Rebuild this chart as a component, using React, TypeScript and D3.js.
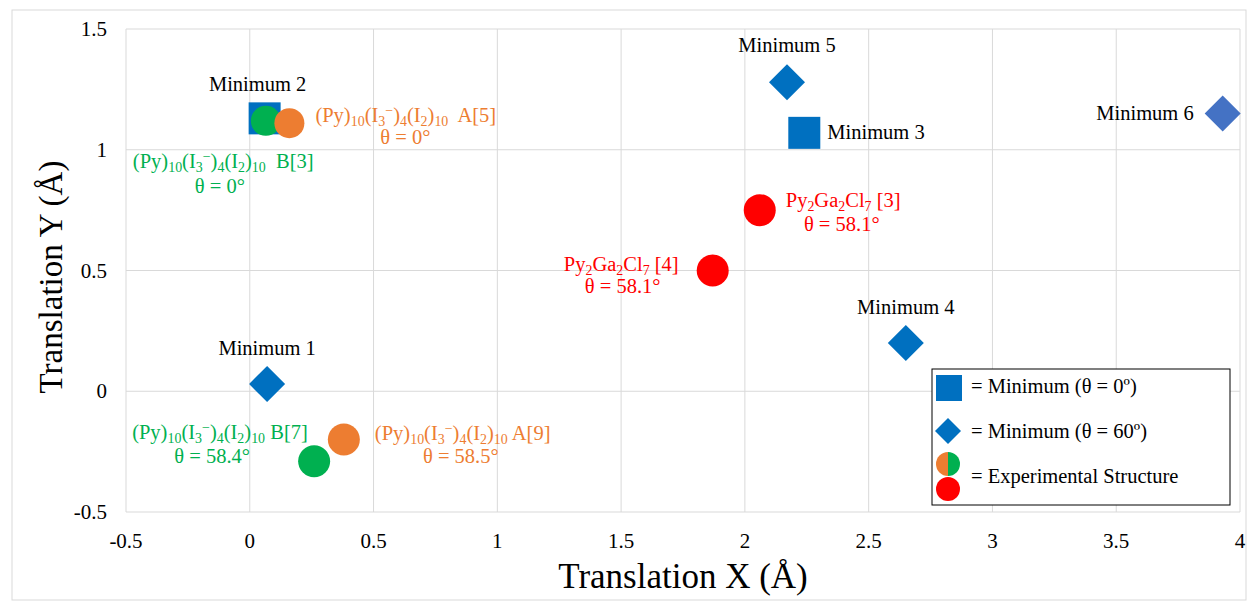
import * as d3 from "d3";

// ---- data ----
const xTicks = [-0.5, 0, 0.5, 1, 1.5, 2, 2.5, 3, 3.5, 4];
const yTicks = [-0.5, 0, 0.5, 1, 1.5];

const minimaNames = ["Minimum 1", "Minimum 2", "Minimum 3", "Minimum 4", "Minimum 5", "Minimum 6"];
const minimaX = [0.07, 0.06, 2.24, 2.65, 2.17, 3.93];
const minimaY = [0.03, 1.13, 1.07, 0.2, 1.28, 1.15];
const minimaShape = ["diamond", "square", "square", "diamond", "diamond", "diamond"];

const expNames = ["B[3]", "A[5]", "B[7]", "A[9]", "Ga[3]", "Ga[4]"];
const expX = [0.065, 0.16, 0.26, 0.38, 2.06, 1.87];
const expY = [1.12, 1.11, -0.29, -0.2, 0.75, 0.5];
const expTheta = ["θ = 0°", "θ = 0°", "θ = 58.4°", "θ = 58.5°", "θ = 58.1°", "θ = 58.1°"];
const expColor = ["#00B050", "#ED7D31", "#00B050", "#ED7D31", "#FF0000", "#FF0000"];

const legendItems = ["= Minimum (θ = 0º)", "= Minimum (θ = 60º)", "= Experimental Structure"];

const W = 1248, H = 607;
const FONT = "'Liberation Serif', 'Times New Roman', serif";
const BLUE = "#0070C0";
const LS = 20.5; // label font size

const x = d3.scaleLinear().domain([-0.5, 4]).range([126, 1240]);
const y = d3.scaleLinear().domain([-0.5, 1.5]).range([512, 29]);

type Seg = [string, number];
const pyFormula = (tail: string): Seg[] => [
  ["(Py)", 0], ["10", -1], ["(I", 0], ["3", -1], ["−", 1], [")", 0], ["4", -1],
  ["(I", 0], ["2", -1], [")", 0], ["10", -1], [tail, 0],
];
const gaFormula = (tail: string): Seg[] => [
  ["Py", 0], ["2", -1], ["Ga", 0], ["2", -1], ["Cl", 0], ["7", -1], [tail, 0],
];

const formulas: Seg[][] = [
  pyFormula("  B[3]"),
  pyFormula("  A[5]"),
  pyFormula(" B[7]"),
  pyFormula(" A[9]"),
  gaFormula(" [3]"),
  gaFormula(" [4]"),
];

// label offsets relative to each point (px): formula start/anchor, theta center
const labelPos = [
  { fx: -133, fy: 47, anchor: "start", tx: -46, ty: 72 },
  { fx: 26, fy: -1, anchor: "start", tx: 116, ty: 21 },
  { fx: -182, fy: -22, anchor: "start", tx: -102, ty: 2 },
  { fx: 31, fy: 0, anchor: "start", tx: 117, ty: 23 },
  { fx: 26, fy: -3, anchor: "start", tx: 82, ty: 21 },
  { fx: -34, fy: 0, anchor: "end", tx: -90, ty: 22 },
];
const minLabelPos = [
  { dx: 0, dy: -29, anchor: "middle" },
  { dx: -7, dy: -27, anchor: "middle" },
  { dx: 23, dy: 6, anchor: "start" },
  { dx: 0, dy: -29, anchor: "middle" },
  { dx: 0, dy: -30, anchor: "middle" },
  { dx: -29, dy: 6, anchor: "end" },
];

function Rich({ segs, px, py, anchor, color, size }: any) {
  let cur = 0;
  return (
    <text x={px} y={py} textAnchor={anchor} fill={color} fontSize={size} fontFamily={FONT} style={{ whiteSpace: "pre" }}>
      {segs.map(([t, lvl]: Seg, i: number) => {
        const target = lvl === -1 ? 4 : lvl === 1 ? -7 : 0;
        const dy = target - cur;
        cur = target;
        return (
          <tspan key={i} dy={dy} fontSize={lvl === 0 ? size : size * 0.68}>
            {t}
          </tspan>
        );
      })}
    </text>
  );
}

function Marker({ shape, cx, cy, color }: any) {
  if (shape === "square") return <rect x={cx - 16} y={cy - 16} width={32} height={32} fill={color} />;
  const r = 18;
  return <path d={`M${cx},${cy - r}L${cx + r},${cy}L${cx},${cy + r}L${cx - r},${cy}Z`} fill={color} />;
}

export default function App() {
  const halfArc = d3.arc<any>().innerRadius(0).outerRadius(12);
  return (
    <svg width={W} height={H} style={{ position: "absolute", left: 0, top: 0, background: "#fff" }}>
      <rect x={12} y={10} width={1234} height={590} fill="#fff" stroke="#D9D9D9" />
      {/* grid */}
      {xTicks.map((t) => (
        <line key={"gx" + t} x1={x(t)} x2={x(t)} y1={y(1.5)} y2={y(-0.5)} stroke="#D9D9D9" />
      ))}
      {yTicks.map((t) => (
        <line key={"gy" + t} x1={x(-0.5)} x2={x(4)} y1={y(t)} y2={y(t)} stroke="#D9D9D9" />
      ))}
      {/* tick labels */}
      {xTicks.map((t) => (
        <text key={"tx" + t} x={x(t)} y={548} textAnchor="middle" fontSize={21} fontFamily={FONT}>{t}</text>
      ))}
      {yTicks.map((t) => (
        <text key={"ty" + t} x={107} y={y(t) + 7} textAnchor="end" fontSize={21} fontFamily={FONT}>{t}</text>
      ))}
      <text x={683} y={588} textAnchor="middle" fontSize={35} fontFamily={FONT}>Translation X (Å)</text>
      <text transform={`translate(62,${277}) rotate(-90)`} textAnchor="middle" fontSize={33} fontFamily={FONT}>Translation Y (Å)</text>

      {/* minima */}
      {minimaNames.map((n, i) => (
        <Marker key={n} shape={minimaShape[i]} cx={x(minimaX[i])} cy={y(minimaY[i])} color={i === 5 ? "#4472C4" : BLUE} />
      ))}
      {/* experimental */}
      {expNames.map((n, i) => (
        <circle key={n} cx={x(expX[i])} cy={y(expY[i])} r={i < 2 ? 15 : 16} fill={expColor[i]} />
      ))}
      {minimaNames.map((n, i) => (
        <text key={"l" + n} x={x(minimaX[i]) + minLabelPos[i].dx} y={y(minimaY[i]) + minLabelPos[i].dy}
          textAnchor={minLabelPos[i].anchor} fontSize={LS} fontFamily={FONT}>{n}</text>
      ))}
      {expNames.map((n, i) => {
        const p = labelPos[i];
        const cx = x(expX[i]), cy = y(expY[i]);
        return (
          <g key={"e" + n}>
            <Rich segs={formulas[i]} px={cx + p.fx} py={cy + p.fy} anchor={p.anchor} color={expColor[i]} size={LS} />
            <text x={cx + p.tx} y={cy + p.ty} textAnchor="middle" fill={expColor[i]} fontSize={LS} fontFamily={FONT}>{expTheta[i]}</text>
          </g>
        );
      })}

      {/* legend */}
      <rect x={932} y={369} width={298} height={136} fill="#fff" stroke="#000" strokeWidth={1} />
      <rect x={936} y={375} width={26} height={26} fill={BLUE} />
      <path d="M948,418L961,431L948,444L935,431Z" fill={BLUE} />
      <path transform="translate(948,464)" d={halfArc({ startAngle: Math.PI, endAngle: 2 * Math.PI }) as string} fill="#ED7D31" />
      <path transform="translate(948,464)" d={halfArc({ startAngle: 0, endAngle: Math.PI }) as string} fill="#00B050" />
      <circle cx={948} cy={489} r={12} fill="#FF0000" />
      {legendItems.map((t, i) => (
        <text key={t} x={971} y={393 + i * 45} fontSize={LS} fontFamily={FONT}>{t}</text>
      ))}
    </svg>
  );
}
